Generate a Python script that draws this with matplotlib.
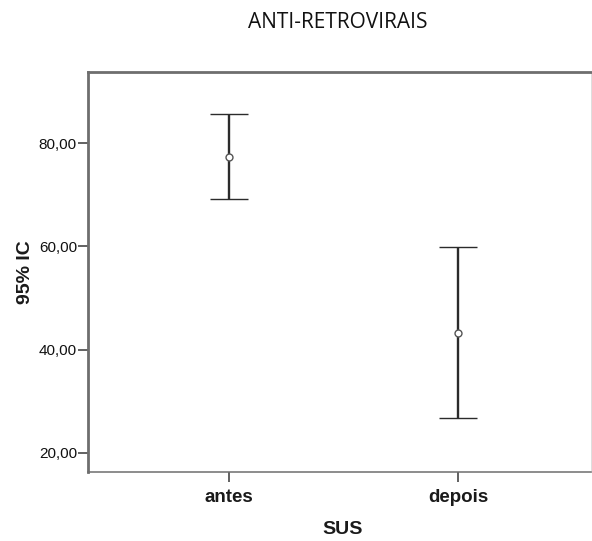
import matplotlib.pyplot as plt

# dados (IC 95%)
grupos = ['antes', 'depois']
media = [77.4, 43.2]
ic_inf = [69.2, 26.7]
ic_sup = [85.7, 59.9]
y_ticks = [20, 40, 60, 80]

fig = plt.figure(figsize=(5.92, 5.41), dpi=100)
ax = fig.add_axes([88 / 592, 69 / 541, 503 / 592, 400 / 541])

x = list(range(len(grupos)))
err_low = [m - lo for m, lo in zip(media, ic_inf)]
err_high = [hi - m for m, hi in zip(media, ic_sup)]

ax.errorbar(x, media, yerr=[err_low, err_high], fmt='o', color='#2b2b2b',
            ecolor='#2b2b2b', elinewidth=1.7, capsize=13.7, capthick=1.7,
            markersize=5, markerfacecolor='white', markeredgecolor='#555555',
            markeredgewidth=1.0)

ax.set_xlim(-0.613, 1.578)
ax.set_ylim(16.26, 93.83)
ax.set_xticks(x)
ax.set_xticklabels(grupos, fontfamily='Liberation Sans', fontweight='bold',
                   fontsize=13.5, color='#1a1a1a')
ax.set_yticks(y_ticks)
ax.set_yticklabels([f'{v:.2f}'.replace('.', ',') for v in y_ticks],
                   fontfamily='Liberation Sans', fontsize=11, color='#111111')

ax.tick_params(axis='y', length=7.5, width=1.3, color='#555555', pad=0.5)
ax.tick_params(axis='x', length=7.5, width=1.3, color='#555555', pad=5)

for lado, lw in [('top', 2.0), ('left', 2.0), ('bottom', 1.1), ('right', 0.6)]:
    ax.spines[lado].set_linewidth(lw)
    ax.spines[lado].set_color('#6e6e6e')
ax.spines['right'].set_color('#d8d8d8')

fig.text(337.5 / 592, 1 - 23 / 541, 'ANTI-RETROVIRAIS', ha='center', va='center',
         fontfamily='Open Sans', fontsize=15, color='#111111')
fig.text(343 / 592, 1 - 529 / 541, 'SUS', ha='center', va='center',
         fontfamily='Liberation Sans', fontweight='bold', fontsize=14, color='#1a1a1a')
fig.text(25 / 592, 1 - 272 / 541, '95% IC', ha='center', va='center', rotation=90,
         fontfamily='Liberation Sans', fontweight='bold', fontsize=14, color='#1a1a1a')

fig.savefig('out.png', dpi=100)
